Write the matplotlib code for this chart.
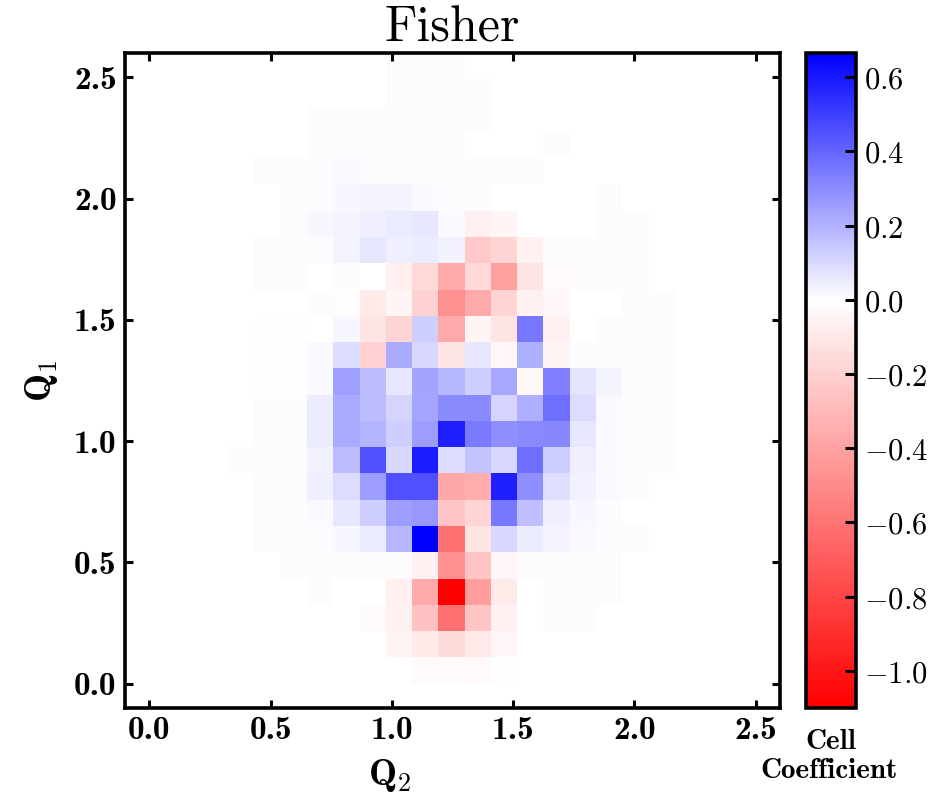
import numpy as np
import matplotlib
matplotlib.use('Agg')
from matplotlib import pyplot as plt
from matplotlib.colors import LinearSegmentedColormap, Normalize
from matplotlib.ticker import FuncFormatter

plt.rcParams['mathtext.fontset'] = 'cm'

# bin edges shared by both axes (24 bins over 0..2.6)
q_min, q_max, n_bins = 0.0, 2.6, 24

# cell coefficients, one list per Q1 bin, top row (highest Q1) first; columns follow Q2 bins
coef_rows = [
    [0, 0, 0, 0, 0, 0, 0, 0, 0, .005, .005, .005, 0, 0, 0, 0, 0, 0, 0, 0, 0, 0, 0, 0],
    [0, 0, 0, 0, 0, 0, 0, 0, 0, .008, .008, .008, .008, 0, 0, 0, 0, 0, 0, 0, 0, 0, 0, 0],
    [0, 0, 0, 0, 0, 0, .008, .008, .008, .008, .008, .008, .008, 0, 0, 0, 0, 0, 0, 0, 0, 0, 0, 0],
    [0, 0, 0, 0, 0, 0, .008, .008, .008, .008, .008, .008, 0, 0, 0, .008, 0, 0, 0, 0, 0, 0, 0, 0],
    [0, 0, 0, 0, .008, .008, .008, .015, .008, .008, .008, .008, .008, .008, .008, 0, 0, 0, 0, 0, 0, 0, 0, 0],
    [0, 0, 0, 0, 0, .008, .008, .018, .029, .029, .013, .008, .008, 0, 0, 0, 0, .008, 0, 0, 0, 0, 0, 0],
    [0, 0, 0, 0, 0, .008, .018, .029, .044, .050, .060, .013, -.060, -.043, 0, 0, 0, .008, .005, 0, 0, 0, 0, 0],
    [0, 0, 0, 0, .005, .008, .008, .029, .060, .039, .050, .034, -.237, -.185, -.060, .005, .005, .008, .008, 0, 0, 0, 0, 0],
    [0, 0, 0, 0, .005, .008, 0, .008, 0, -.069, -.168, -.367, -.168, -.410, -.116, -.022, .008, .008, .008, 0, 0, 0, 0, 0],
    [0, 0, 0, 0, .003, .003, .005, -.015, -.099, -.043, -.203, -.479, -.367, -.185, -.060, -.035, 0, 0, .008, .008, 0, 0, 0, 0],
    [0, 0, 0, 0, -.005, -.005, 0, .018, -.116, -.185, .123, -.367, -.043, -.116, .352, -.060, 0, .008, .008, .005, 0, 0, 0, 0],
    [0, 0, 0, 0, -.005, -.005, .013, .091, -.203, .222, .102, -.116, .060, -.035, .206, -.043, .008, .008, .008, .005, 0, 0, 0, 0],
    [0, 0, 0, 0, -.005, -.005, .013, .248, .175, .065, .243, .185, .123, .227, -.035, .331, .070, .029, .008, .008, 0, 0, 0, 0],
    [0, 0, 0, 0, .005, .005, .050, .222, .175, .112, .237, .300, .300, .112, .206, .373, .091, .013, .008, .008, 0, 0, 0, 0],
    [0, 0, 0, 0, .008, .008, .050, .222, .196, .123, .258, .582, .342, .289, .300, .310, .065, .013, .008, .008, 0, 0, 0, 0],
    [0, 0, 0, .008, .008, .008, .034, .175, .456, .102, .592, .091, .160, .102, .373, .133, .039, .013, .008, .005, 0, 0, 0, 0],
    [0, 0, 0, 0, .005, .008, .039, .091, .258, .456, .456, -.375, -.355, .582, .289, .081, .034, .013, .008, 0, 0, 0, 0, 0],
    [0, 0, 0, 0, .008, .008, .013, .060, .123, .258, .269, -.255, -.185, .352, .164, .044, .018, .008, 0, 0, 0, 0, 0, 0],
    [0, 0, 0, 0, .008, .008, .008, .023, .050, .185, .665, -.617, -.116, .102, .050, .029, .013, .008, .008, 0, 0, 0, 0, 0],
    [0, 0, 0, 0, 0, .010, .010, .010, .010, .010, -.060, -.479, -.255, -.035, .010, .010, .010, .005, 0, 0, 0, 0, 0, 0],
    [0, 0, 0, 0, 0, 0, .010, 0, 0, -.069, -.367, -1.10, -.427, -.091, 0, .008, .008, .005, 0, 0, 0, 0, 0, 0],
    [0, 0, 0, 0, 0, 0, 0, 0, -.022, -.060, -.272, -.617, -.255, -.060, 0, .005, .005, 0, 0, 0, 0, 0, 0, 0],
    [0, 0, 0, 0, 0, 0, 0, 0, 0, -.043, -.099, -.151, -.099, -.035, 0, 0, 0, 0, 0, 0, 0, 0, 0, 0],
    [0, 0, 0, 0, 0, 0, 0, 0, 0, 0, -.022, -.022, -.030, -.010, 0, 0, 0, 0, 0, 0, 0, 0, 0, 0],
]

axis_ticks = [0.0, 0.5, 1.0, 1.5, 2.0, 2.5]
cbar_ticks = [-1.0, -0.8, -0.6, -0.4, -0.2, 0.0, 0.2, 0.4, 0.6]


def make_cmap(vmin, vmax):
    """Red below zero, blue above, white exactly at zero."""
    f = -vmin / (vmax - vmin)
    return LinearSegmentedColormap.from_list('rwb', [(0.0, (1, 0, 0)), (f, (1, 1, 1)), (1.0, (0, 0, 1))])


def main():
    coef = np.flipud(np.array(coef_rows))
    edges = np.linspace(q_min, q_max, n_bins + 1)
    vmin, vmax = coef.min(), coef.max()

    fig = plt.figure(figsize=(9.33, 8.05), dpi=100)
    ax = fig.add_axes([0.134, 0.1205, 0.702, 0.8137])
    cax = fig.add_axes([0.864, 0.1205, 0.0536, 0.8137])

    mesh = ax.pcolormesh(edges, edges, coef, cmap=make_cmap(vmin, vmax),
                         norm=Normalize(vmin=vmin, vmax=vmax), shading='flat')
    ax.set_xlim(-0.1, 2.6)
    ax.set_ylim(-0.1, 2.6)
    ax.set_xticks(axis_ticks)
    ax.set_yticks(axis_ticks)
    ax.set_xticklabels([f'{t:.1f}' for t in axis_ticks], fontfamily='cmb10')
    ax.set_yticklabels([f'{t:.1f}' for t in axis_ticks], fontfamily='cmb10')
    ax.tick_params(direction='in', length=6, width=2.2, labelsize=24, pad=6,
                   top=True, right=True)
    for spine in ax.spines.values():
        spine.set_linewidth(2.6)

    ax.set_title('Fisher', fontfamily='cmr10', fontsize=36, pad=8)
    ax.set_xlabel(r'$\mathbf{Q_2}$', fontsize=27)
    ax.xaxis.set_label_coords(0.405, -0.075)
    ax.set_ylabel(r'$\mathbf{Q_1}$', fontsize=27)
    ax.yaxis.set_label_coords(-0.1, 0.5)

    cbar = fig.colorbar(mesh, cax=cax)
    cbar.set_ticks(cbar_ticks)
    cbar.ax.yaxis.set_major_formatter(FuncFormatter(lambda v, pos: rf'${v:.1f}$'))
    cbar.ax.tick_params(direction='in', length=8, width=2.2, labelsize=22, pad=6)
    cbar.ax.minorticks_off()
    cbar.outline.set_linewidth(2.6)

    fig.text(0.891, 0.070, 'Cell', fontfamily='cmb10', fontsize=21,
             ha='center', va='baseline')
    fig.text(0.888, 0.034, 'Coefficient', fontfamily='cmb10', fontsize=21,
             ha='center', va='baseline')

    fig.savefig('out.png', dpi=100)


if __name__ == '__main__':
    main()
